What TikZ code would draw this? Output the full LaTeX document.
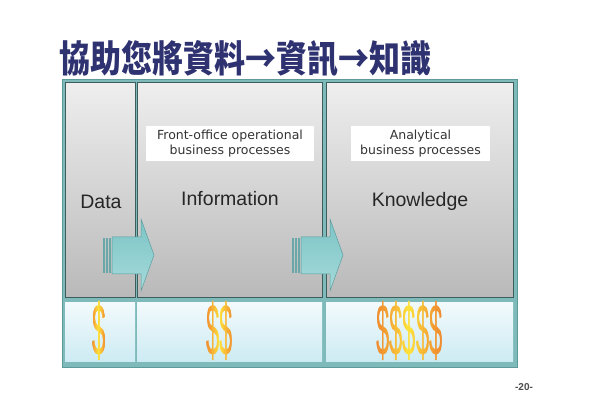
\documentclass[tikz,border=0pt]{standalone}
\usepackage{fontspec}
\setmainfont{Liberation Sans}
\newfontfamily\cjk{Noto Sans CJK TC}
\newfontfamily\boxfont{DejaVu Sans}
\definecolor{titlec}{HTML}{2E3270}
\definecolor{framec}{HTML}{7EBABA}
\definecolor{framedk}{HTML}{5F9A9A}
\definecolor{paneledge}{HTML}{3E5E5E}
\definecolor{paneltop}{HTML}{EEEEEE}
\definecolor{panelbot}{HTML}{B9B9B9}
\definecolor{celltop}{HTML}{F2FAFC}
\definecolor{cellbot}{HTML}{CDEBF3}
\definecolor{arrowtop}{HTML}{7CC4C6}
\definecolor{arrowbot}{HTML}{A6DADA}
\definecolor{arrowedge}{HTML}{5C9E9E}
\definecolor{dorange}{HTML}{F08A30}
\definecolor{dyellow}{HTML}{FFE63C}
\newcommand{\dollarglyphs}[1]{\scalebox{0.6}[1.83]{\fontsize{40}{40}\selectfont #1}}
% #1 centre x, #2 centre y, #3 half width, #4 glyphs, #5 name
\newcommand{\dollargroup}[5]{%
  \foreach \k in {0,...,19}{%
    \pgfmathsetmacro{\xa}{#1-#3+\k*#3/10}%
    \pgfmathsetmacro{\xb}{\xa+#3/10+0.3}%
    \pgfmathsetmacro{\pct}{100*(1-abs((\k+0.5)/10-1))^1.3}%
    \begin{scope}
      \clip (\xa,#2-40) rectangle (\xb,#2+40);
      \node[text=dyellow!\pct!dorange, inner sep=0pt] (#5\k) at (#1,#2) {\dollarglyphs{#4}};
    \end{scope}
  }%
}
\tikzset{
  panel/.style={draw=paneledge, line width=1pt, top color=paneltop, bottom color=panelbot, inner sep=0pt},
  cell/.style={top color=celltop, bottom color=cellbot, inner sep=0pt},
  label/.style={font=\fontsize{19.5}{21}\selectfont, text=black!85},
  infobox/.style={fill=white, inner sep=0pt, align=center, font=\boxfont\fontsize{12.5}{15}\selectfont, text=black!80},
  arrowbody/.style={top color=arrowtop, bottom color=arrowbot, draw=arrowedge, line width=0.5pt},
  stripe/.style={fill=arrowtop!85!black, draw=none}
}
\begin{document}
\begin{tikzpicture}[x=1pt,y=-1pt]
\useasboundingbox (0,0) rectangle (590,417);
\fill[white] (0,0) rectangle (590,417);
% title
\node[anchor=west, inner sep=0pt, text=titlec] (title) at (59,59)
  {\scalebox{1}[1.2]{\cjk\bfseries\fontsize{31}{31}\selectfont 協助您將資料→資訊→知識}};
% outer frame
\node[fill=framec, draw=framedk, line width=1pt, minimum width=455pt, minimum height=287pt, inner sep=0pt] (frame) at (289.5,223.5) {};
% top panels
\node[panel, minimum width=70pt, minimum height=215pt] (data) at (100,190.5) {};
\node[panel, minimum width=185pt, minimum height=215pt] (info) at (229.5,190.5) {};
\node[panel, minimum width=187pt, minimum height=215pt] (know) at (419.5,190.5) {};
% bottom cells
\node[cell, minimum width=70pt, minimum height=59pt] (c1) at (100,332) {};
\node[cell, minimum width=185pt, minimum height=59pt] (c2) at (229.5,332) {};
\node[cell, minimum width=187pt, minimum height=59pt] (c3) at (419.5,332) {};
% info boxes
\node[infobox, minimum width=168pt, minimum height=35pt] (fo) at (230,143.5)
  {Front-office operational\\ business processes};
\node[infobox, minimum width=139pt, minimum height=35pt] (an) at (420.5,143.5)
  {Analytical\\business processes};
% labels
\node[label] (ldata) at (101,202) {Data};
\node[label] (linfo) at (230,198.5) {Information};
\node[label] (lknow) at (420,201.5) {Knowledge};
% arrow 1
\fill[stripe] (103,238) rectangle (105,273);
\fill[stripe] (106,238) rectangle (108,273);
\fill[stripe] (109,238) rectangle (111,273);
\shade[arrowbody] (112,237) -- (141,237) -- (141,219) -- (154,255) -- (141,291) -- (141,274) -- (112,274) -- cycle;
% arrow 2
\fill[stripe] (292,238) rectangle (294,273);
\fill[stripe] (295,238) rectangle (297,273);
\fill[stripe] (298,238) rectangle (300,273);
\shade[arrowbody] (301,237) -- (330,237) -- (330,219) -- (343,255) -- (330,291) -- (330,274) -- (301,274) -- cycle;
% dollars
\dollargroup{99}{331}{8}{\$}{done}
\dollargroup{220}{331}{15}{\$\$}{dtwo}
\dollargroup{409.5}{331}{34}{\$\$\$\$\$}{dfive}
% page number
\node[text=black!70, font=\bfseries\fontsize{10}{11}\selectfont] (page) at (524,387) {-20-};
\end{tikzpicture}
\end{document}
